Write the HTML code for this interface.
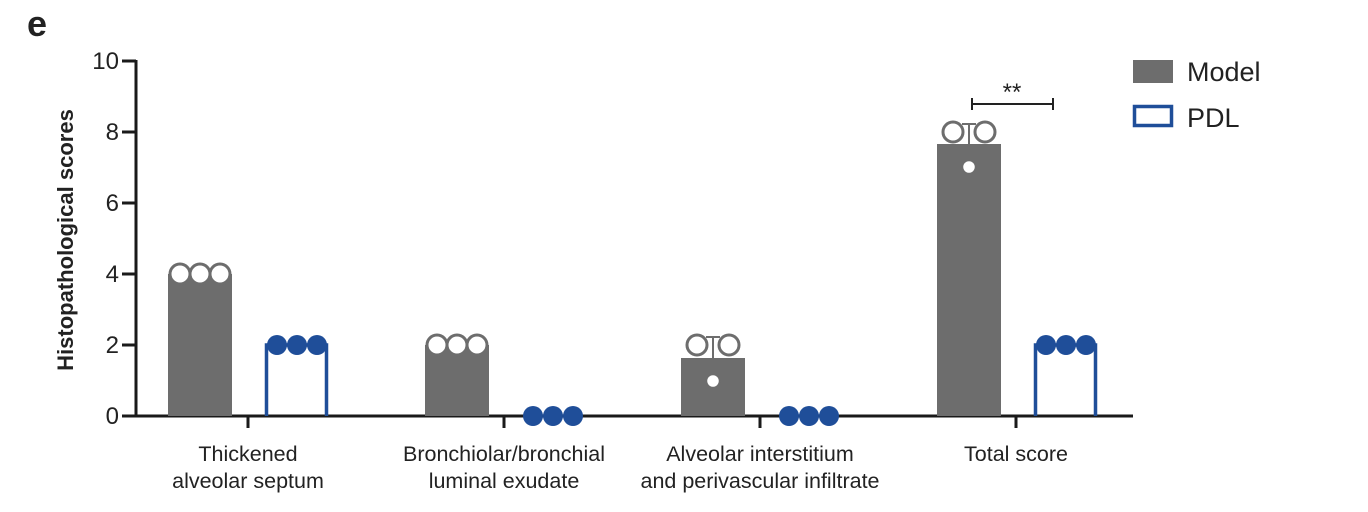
<!DOCTYPE html>
<html><head><meta charset="utf-8"><style>
html,body{margin:0;padding:0;background:#fff;}
svg{display:block;}
text{font-family:"Liberation Sans",Arial,sans-serif;fill:#222;}
</style></head><body>
<svg width="1368" height="512" viewBox="0 0 1368 512" xmlns="http://www.w3.org/2000/svg">
<text x="27" y="36" font-size="36" font-weight="bold">e</text>
<text transform="translate(73,240) rotate(-90)" text-anchor="middle" font-size="22" font-weight="bold">Histopathological scores</text>
<g stroke="#1a1a1a" stroke-width="3" fill="none">
<line x1="136" y1="60" x2="136" y2="417"/>
<line x1="122" y1="416" x2="1133" y2="416"/>
<line x1="122" y1="61" x2="136" y2="61"/>
<line x1="122" y1="132" x2="136" y2="132"/>
<line x1="122" y1="203" x2="136" y2="203"/>
<line x1="122" y1="274" x2="136" y2="274"/>
<line x1="122" y1="345" x2="136" y2="345"/>
<line x1="248" y1="416" x2="248" y2="428"/>
<line x1="504" y1="416" x2="504" y2="428"/>
<line x1="760" y1="416" x2="760" y2="428"/>
<line x1="1016" y1="416" x2="1016" y2="428"/>
</g>
<g font-size="24" text-anchor="end" fill="#333">
<text x="119" y="69">10</text>
<text x="119" y="140">8</text>
<text x="119" y="211">6</text>
<text x="119" y="282">4</text>
<text x="119" y="353">2</text>
<text x="119" y="424">0</text>
</g>
<g fill="#6d6d6d">
<rect x="168" y="274" width="64" height="142"/>
<rect x="425" y="345" width="64" height="71"/>
<rect x="681" y="358" width="64" height="58"/>
<rect x="937" y="144" width="64" height="272"/>
</g>
<g fill="none" stroke="#1f4e99" stroke-width="3.5">
<path d="M266.5 416 V345 H326.5 V416"/>
<path d="M1035.5 416 V345 H1095.5 V416"/>
</g>
<g stroke="#6d6d6d" stroke-width="2">
<line x1="713" y1="358" x2="713" y2="337"/><line x1="706" y1="337" x2="720" y2="337"/>
<line x1="969" y1="144" x2="969" y2="124"/><line x1="962" y1="124" x2="976" y2="124"/>
</g>
<g fill="#fff" stroke="#6d6d6d" stroke-width="3">
<circle cx="180" cy="274" r="10"/><circle cx="200" cy="274" r="10"/><circle cx="220" cy="274" r="10"/>
<circle cx="437" cy="345" r="10"/><circle cx="457" cy="345" r="10"/><circle cx="477" cy="345" r="10"/>
<circle cx="697" cy="345" r="10"/><circle cx="729" cy="345" r="10"/>
<circle cx="953" cy="132" r="10"/><circle cx="985" cy="132" r="10"/>
</g>
<g fill="#fff" stroke="#6d6d6d" stroke-width="1.5">
<circle cx="713" cy="381" r="6.5"/>
<circle cx="969" cy="167" r="6.5"/>
</g>
<g fill="#1f4e99">
<circle cx="277" cy="345" r="10"/><circle cx="297" cy="345" r="10"/><circle cx="317" cy="345" r="10"/>
<circle cx="533" cy="416" r="10"/><circle cx="553" cy="416" r="10"/><circle cx="573" cy="416" r="10"/>
<circle cx="789" cy="416" r="10"/><circle cx="809" cy="416" r="10"/><circle cx="829" cy="416" r="10"/>
<circle cx="1046" cy="345" r="10"/><circle cx="1066" cy="345" r="10"/><circle cx="1086" cy="345" r="10"/>
</g>
<g stroke="#222" stroke-width="2">
<line x1="972" y1="104" x2="1053" y2="104"/>
<line x1="972" y1="98" x2="972" y2="110"/>
<line x1="1053" y1="98" x2="1053" y2="110"/>
</g>
<text x="1012" y="100" font-size="24" text-anchor="middle">**</text>
<rect x="1133" y="60" width="40" height="23" fill="#6d6d6d"/>
<text x="1187" y="81" font-size="27">Model</text>
<rect x="1134.5" y="106.5" width="37" height="19" fill="none" stroke="#1f4e99" stroke-width="3.5"/>
<text x="1187" y="127" font-size="27">PDL</text>
<g font-size="21.5" text-anchor="middle" fill="#333">
<text x="248" y="461">Thickened</text><text x="248" y="488">alveolar septum</text>
<text x="504" y="461">Bronchiolar/bronchial</text><text x="504" y="488">luminal exudate</text>
<text x="760" y="461">Alveolar interstitium</text><text x="760" y="488">and perivascular infiltrate</text>
<text x="1016" y="461">Total score</text>
</g>
</svg>
</body></html>
